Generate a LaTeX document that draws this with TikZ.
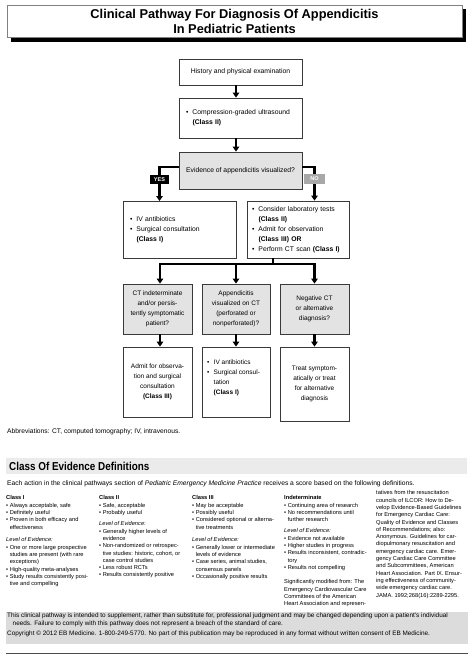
\documentclass[tikz,border=0pt]{standalone}
\usepackage{fontspec}
\setmainfont{Liberation Sans}
\usetikzlibrary{arrows.meta}
\definecolor{boxgray}{HTML}{E3E3E3}
\definecolor{headgray}{HTML}{EBEBEB}
\definecolor{botgray}{HTML}{DCDCDC}
\definecolor{boxline}{HTML}{3A3A3A}
\definecolor{nogray}{HTML}{A8A8A8}
\newcommand{\flbul}[1]{\makebox[6.5pt][l]{•}#1}
\newcommand{\flind}{\hspace*{6.5pt}}
\newcommand{\cind}{\phantom{• }}
\begin{document}
\begin{tikzpicture}[x=1pt,y=-1pt,
  box/.style={draw=boxline, line width=0.8pt, fill=white, inner sep=0pt, align=center,
    font=\fontsize{6.8}{10.2}\selectfont},
  gbox/.style={box, fill=boxgray},
  sbox/.style={box, font=\fontsize{6.5}{10.2}\selectfont},
  sgbox/.style={sbox, fill=boxgray},
  conn/.style={line width=2.2pt, -{Triangle[width=6.5pt,length=5pt]}},
  bar/.style={line width=2.2pt},
  coltext/.style={anchor=north west, inner sep=0pt, align=left, font=\fontsize{5.7}{7.3}\selectfont},
  small/.style={anchor=west, inner sep=0pt, font=\fontsize{6.4}{7}\selectfont},
  tag/.style={inner sep=0pt, font=\bfseries\fontsize{5.5}{6}\selectfont, text=white}
]
\useasboundingbox (0,0) rectangle (474,657);
\fill[white] (0,0) rectangle (474,657);

% title
\fill[black] (11,9) rectangle (466,42);
\draw[fill=white, draw=gray, line width=0.8pt] (7,5) rectangle (462,37);
\node[font=\bfseries\fontsize{12.8}{15}\selectfont, align=center, inner sep=0pt] (title) at (234.5,21.5)
  {Clinical Pathway For Diagnosis Of Appendicitis\\In Pediatric Patients};

% flowchart boxes
\node[box, minimum width=123pt, minimum height=26pt] (b1) at (240.5,72) {History and physical examination};
\node[box, minimum width=123pt, minimum height=40pt, text width=109pt, align=left, inner xsep=7pt] (b2) at (240.5,118)
  {\flbul{Compression-graded ultrasound}\\\flind\textbf{(Class II)}};
\node[gbox, minimum width=123pt, minimum height=37pt] (b3) at (240.5,170.5) {Evidence of appendicitis visualized?};
\node[box, minimum width=113pt, minimum height=57pt, text width=99pt, align=left, inner xsep=7pt] (b4) at (179.5,229.5)
  {\flbul{IV antibiotics}\\\flbul{Surgical consultation}\\\flind\textbf{(Class I)}};
\node[box, minimum width=102pt, minimum height=57pt, text width=92pt, align=left, inner xsep=5pt,
  font=\fontsize{6.8}{10}\selectfont] (b5) at (298,229.5)
  {\flbul{Consider laboratory tests}\\\flind\textbf{(Class II)}\\\flbul{Admit for observation}\\\flind\textbf{(Class III) OR}\\\flbul{Perform CT scan \textbf{(Class I)}}};

\node[sgbox, minimum width=69pt, minimum height=50pt] (b6) at (157.5,309)
  {CT indeterminate\\and/or persis-\\tently symptomatic\\patient?};
\node[sgbox, minimum width=68pt, minimum height=50pt] (b7) at (236,309)
  {Appendicitis\\visualized on CT\\(perforated or\\nonperforated)?};
\node[sgbox, minimum width=69pt, minimum height=50pt] (b8) at (314.5,309)
  {Negative CT\\or alternative\\diagnosis?};

\node[sbox, minimum width=69pt, minimum height=70pt] (b9) at (157.5,382)
  {Admit for observa-\\tion and surgical\\consultation\\\textbf{(Class III)}};
\node[sbox, minimum width=68pt, minimum height=70pt] (b10) at (236,382) {};
\node[anchor=north west, align=left, inner sep=0pt, font=\fontsize{6.5}{10}\selectfont] (b10t) at (207,359.3)
  {\flbul{IV antibiotics}\\\flbul{Surgical consul-}\\\flind tation\\\flind\textbf{(Class I)}};
\node[sbox, minimum width=69pt, minimum height=74pt] (b11) at (314.5,384)
  {Treat symptom-\\atically or treat\\for alternative\\diagnosis};

% connectors
\coordinate (yesend) at (159.5,201);
\coordinate (xl) at (160,264);
\coordinate (xm) at (273,264);
\coordinate (xr) at (314.5,264);
\draw[conn] (b1.south -| b7) -- (b2.north -| b7);
\draw[conn] (b2.south -| b7) -- (b3.north -| b7);
\draw[conn] ([yshift=3.5pt]b3.west) -| (yesend);
\draw[conn] ([yshift=3.5pt]b3.east) -| (b8 |- b5.north);
\draw[bar] (xm |- b5.south) -- (xm);
\draw[bar, line cap=rect] (xl) -- (xr);
\draw[conn] (xl) -- (xl |- b6.north);
\draw[conn] (b7 |- xl) -- (b7.north);
\draw[conn] (xr) -- (xr |- b8.north);
\draw[conn] (xl |- b6.south) -- (xl |- b9.north);
\draw[conn] (b7.south) -- (b10.north);
\draw[conn] (xr |- b8.south) -- (xr |- b11.north);

\node[tag, fill=black, minimum width=19pt, minimum height=9pt] (yes) at (159.5,179.5) {YES};
\node[tag, fill=nogray, minimum width=21pt, minimum height=10pt] (no) at (314.5,179) {NO};

% abbreviations
\node[anchor=west, inner sep=0pt, font=\fontsize{6.7}{7}\selectfont] (abbr) at (7,432)
  {Abbreviations: CT, computed tomography; IV, intravenous.};

% class of evidence header
\fill[headgray] (6,458) rectangle (467,474);
\node[anchor=west, inner sep=0pt] (head) at (9,466.5)
  {\scalebox{0.86}[1]{\bfseries\fontsize{11.5}{12}\selectfont Class Of Evidence Definitions}};
\node[anchor=west, inner sep=0pt, font=\fontsize{6.7}{7}\selectfont] (intro) at (7,484)
  {Each action in the clinical pathways section of \textit{Pediatric Emergency Medicine Practice} receives a score based on the following definitions.};

% column 1
\node[coltext] (c1a) at (6,495.5)
  {\textbf{Class I}\\• Always acceptable, safe\\• Definitely useful\\• Proven in both efficacy and\\\cind effectiveness};
\node[coltext] (c1b) at (6,537.5)
  {\textit{Level of Evidence:}\\• One or more large prospective\\\cind studies are present (with rare\\\cind exceptions)\\• High-quality meta-analyses\\• Study results consistently posi-\\\cind tive and compelling};
% column 2
\node[coltext] (c2a) at (99,495.5)
  {\textbf{Class II}\\• Safe, acceptable\\• Probably useful};
\node[coltext] (c2b) at (99,521.5)
  {\textit{Level of Evidence:}\\• Generally higher levels of\\\cind evidence\\• Non-randomized or retrospec-\\\cind tive studies: historic, cohort, or\\\cind case control studies\\• Less robust RCTs\\• Results consistently positive};
% column 3
\node[coltext] (c3a) at (192,495.5)
  {\textbf{Class III}\\• May be acceptable\\• Possibly useful\\• Considered optional or alterna-\\\cind tive treatments};
\node[coltext] (c3b) at (192,537.5)
  {\textit{Level of Evidence:}\\• Generally lower or intermediate\\\cind levels of evidence\\• Case series, animal studies,\\\cind consensus panels\\• Occasionally positive results};
% column 4
\node[coltext] (c4a) at (284,495.5)
  {\textbf{Indeterminate}\\• Continuing area of research\\• No recommendations until\\\cind further research};
\node[coltext] (c4b) at (284,528.5)
  {\textit{Level of Evidence:}\\• Evidence not available\\• Higher studies in progress\\• Results inconsistent, contradic-\\\cind tory\\• Results not compelling};
\node[coltext] (c4c) at (284,579.5)
  {Significantly modified from: The\\Emergency Cardiovascular Care\\Committees of the American\\Heart Association and represen-};
% column 5
\node[coltext] (c5) at (376,490.5)
  {tatives from the resuscitation\\councils of ILCOR: How to De-\\velop Evidence-Based Guidelines\\for Emergency Cardiac Care:\\Quality of Evidence and Classes\\of Recommendations; also:\\Anonymous. Guidelines for car-\\diopulmonary resuscitation and\\emergency cardiac care. Emer-\\gency Cardiac Care Committee\\and Subcommittees, American\\Heart Association. Part IX. Ensur-\\ing effectiveness of community-\\wide emergency cardiac care.\\JAMA. 1992;268(16):2289-2295.};

% bottom box
\fill[botgray] (6,612) rectangle (468,644);
\node[small] (d1) at (7,616)
  {This clinical pathway is intended to supplement, rather than substitute for, professional judgment and may be changed depending upon a patient's individual};
\node[small] (d2) at (12.5,623.5)
  {needs. Failure to comply with this pathway does not represent a breach of the standard of care.};
\node[small] (d3) at (7,634)
  {Copyright © 2012 EB Medicine. 1-800-249-5770. No part of this publication may be reproduced in any format without written consent of EB Medicine.};
\draw[gray!60!black, line width=0.8pt] (6,653) -- (468,653);
\end{tikzpicture}
\end{document}
